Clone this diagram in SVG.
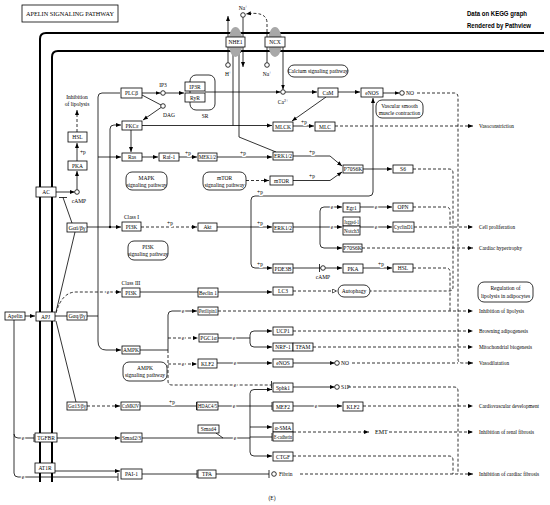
<svg xmlns="http://www.w3.org/2000/svg" width="550" height="505" viewBox="0 0 550 505">
<defs>
<marker id="a" viewBox="0 0 10 10" refX="10" refY="5" markerWidth="5" markerHeight="5" markerUnits="userSpaceOnUse" orient="auto"><path d="M0,1 L10,5 L0,9 z"/></marker>
<marker id="o" viewBox="0 0 10 10" refX="10" refY="5" markerWidth="5" markerHeight="5" markerUnits="userSpaceOnUse" orient="auto"><path d="M1,1 L9,5 L1,9 z" fill="#fff" stroke="#000" stroke-width="1.2"/></marker>
<style>
.b{fill:#fff;stroke:#000;stroke-width:0.8}
.t{font-family:"Liberation Serif",serif;font-size:5.5px;text-anchor:middle;fill:#000}
.s{font-family:"Liberation Serif",serif;font-size:5.5px;text-anchor:start;fill:#000}
.r{font-family:"Liberation Serif",serif;font-size:6px;text-anchor:start;fill:#000}
.e{font-family:"Liberation Serif",serif;font-size:5.5px;text-anchor:middle;fill:#000;stroke:#fff;stroke-width:2.2;paint-order:stroke}
.l{fill:none;stroke:#000;stroke-width:0.8}
.d{fill:none;stroke:#000;stroke-width:0.8;stroke-dasharray:3 2}
.m{fill:none;stroke:#000;stroke-width:2}
.c{fill:#fff;stroke:#000;stroke-width:0.8}
.g{fill:#a8a8a8;stroke:none}
.h{font-family:"Liberation Sans",sans-serif;font-size:7.5px;font-weight:bold;fill:#000}
</style>
</defs>
<rect width="550" height="505" fill="#fff"/>

<g id="title"><rect class="b" x="22" y="5" width="96" height="17"/><text class="t" x="70" y="16" font-size="6.5px" textLength="88" lengthAdjust="spacingAndGlyphs">APELIN SIGNALING PATHWAY</text></g>
<g id="credit"><text class="h" x="467" y="16" textLength="60" lengthAdjust="spacingAndGlyphs">Data on KEGG graph</text><text class="h" x="467" y="27.5" textLength="64" lengthAdjust="spacingAndGlyphs">Rendered by Pathview</text></g>

<g id="membrane">
<path class="m" d="M544 33 H46 Q40 33 40 39 V482"/>
<path class="m" d="M544 51 H58 Q52 51 52 57 V482"/>
</g>

<g id="connectors">
<path class="l" d="M228 62.7 V47"/><path class="l" d="M228 37 V16" marker-end="url(#a)"/>
<path class="l" d="M243 17.3 V37"/><path class="l" d="M243 47 V67" marker-end="url(#a)"/>
<path class="l" d="M267 62.7 V47"/>
<path class="d" d="M267 37 V22 Q266 11 246 14" marker-end="url(#a)"/>
<path class="l" d="M283 47 V89.5" marker-end="url(#a)"/>
<path class="l" d="M142 93 H160.5" marker-end="url(#a)"/>
<path class="l" d="M142 95 L161 105"/>
<path class="l" d="M165.3 93 H184" marker-end="url(#a)"/>
<path class="l" d="M161 107.5 L143 120" marker-end="url(#a)"/>
<path class="l" d="M120 93 H102 Q98 93 98 97 V341 Q98 350 106 350 H121" marker-end="url(#a)"/>
<path class="l" d="M98 157 H121" marker-end="url(#a)"/>
<path class="l" d="M87 316 H98"/>
<path class="l" d="M110 227 V129 Q110 125 114 125 H121" marker-end="url(#a)"/>
<circle cx="110" cy="227" r="1.2"/>
<path class="l" d="M87 227 H121" marker-end="url(#a)"/>
<path class="l" d="M131 130 V152" marker-end="url(#a)"/>
<path class="l" d="M142 157 H158" marker-end="url(#a)"/>
<path class="l" d="M179 157 H197" marker-end="url(#a)"/>
<path class="l" d="M217 157 H272" marker-end="url(#a)"/>
<path class="l" d="M142 125.5 H272" marker-end="url(#a)"/>
<path class="l" d="M233 125.5 V48" marker-end="url(#a)"/>
<path class="l" d="M276 152 L239 137 V48" marker-end="url(#a)"/>
<path class="l" d="M205 92 H280.5" marker-end="url(#a)"/>
<path class="l" d="M285.3 92 H317" marker-end="url(#a)"/>
<path class="l" d="M338 92 H360" marker-end="url(#a)"/>
<path class="l" d="M326 97 L292 121" marker-end="url(#a)"/>
<path class="l" d="M293 126 H314" marker-end="url(#a)"/>
<path class="d" d="M335 126 H473" marker-end="url(#a)"/>
<path class="l" d="M383 93 H399.5" marker-end="url(#a)"/>
<path class="d" d="M417 93 H454 Q458 93 458 97 V359 Q458 363 462 363 H473" marker-end="url(#a)"/>
<path class="l" d="M293 156 H330 L342 166" marker-end="url(#a)"/>
<path class="l" d="M293 180.5 H330 L342 172" marker-end="url(#a)"/>
<path class="l" d="M363 169 H392" marker-end="url(#a)"/>
<path class="d" d="M246 180.5 H269" marker-end="url(#a)"/>
<path class="d" d="M141 227 H197" marker-end="url(#a)"/>
<path class="l" d="M217 227 H272" marker-end="url(#a)"/>
<path class="l" d="M251 227 V200 Q251 196 255 196 H369 Q373 196 373 192 V98" marker-end="url(#a)"/>
<path class="l" d="M251 227 V264 Q251 268 255 268 H272" marker-end="url(#a)"/>
<path class="l" d="M293 227 H342" marker-end="url(#a)"/>
<path class="l" d="M320 227 V211 Q320 207 324 207 H342" marker-end="url(#a)"/>
<path class="l" d="M320 227 V244 Q320 248 324 248 H342" marker-end="url(#a)"/>
<path class="l" d="M360 207 H392" marker-end="url(#a)"/>
<path class="l" d="M360 227 H392" marker-end="url(#a)"/>
<path class="d" d="M362 248 H473" marker-end="url(#a)"/>
<path class="d" d="M413 169 H449 Q453 169 453 173 V287 Q453 291 449 291 H370"/>
<path class="d" d="M413 207 H446 Q450 207 450 211 V227"/>
<path class="d" d="M414 227 H473" marker-end="url(#a)"/>
<path class="l" d="M293 268 H320.7"/><path class="l" d="M319.5 264 V272"/>
<path class="l" d="M325.3 268 H342" marker-end="url(#a)"/>
<path class="l" d="M363 268 H392" marker-end="url(#a)"/>
<path class="d" d="M413 268 H446 Q450 268 450 272 V311"/>
<path class="l" d="M72 223 L63 197.5"/><path class="l" d="M59 197.5 H67"/>
<path class="l" d="M56 192 H74.7" marker-end="url(#a)"/>
<path class="l" d="M77 189.7 V171" marker-end="url(#a)"/>
<path class="l" d="M77 161 V143" marker-end="url(#a)"/>
<path class="d" d="M77 132 V110" marker-end="url(#a)"/>
<path class="l" d="M25 316 H35" marker-end="url(#a)"/>
<path class="l" d="M55 316 H67"/>
<path class="l" d="M56 312 L75 232"/>
<path class="l" d="M56 321 L76 402"/>
<path class="d" d="M56 313 Q62 292 76 292 H121" marker-end="url(#a)"/>
<path class="l" d="M140 292 H198"/>
<path class="l" d="M218 292 H272" marker-end="url(#a)"/>
<path class="d" d="M293 291 H337" marker-end="url(#o)"/>
<path class="l" d="M140 350 H168 V315 Q168 311 172 311 H197" marker-end="url(#a)"/>
<path class="d" d="M168 350 V381 Q168 385 172 385 H271"/><path class="l" d="M271.5 381 V388.5"/>
<path class="d" d="M168 338 H198" marker-end="url(#a)"/>
<path class="d" d="M168 364 H197" marker-end="url(#a)"/>
<path class="d" d="M218 311 H473" marker-end="url(#a)"/>
<path class="l" d="M218 338 H250"/>
<path class="l" d="M250 338 V335 Q250 331 254 331 H272" marker-end="url(#a)"/>
<path class="l" d="M250 338 V343 Q250 347 254 347 H272" marker-end="url(#a)"/>
<path class="d" d="M293 331 H473" marker-end="url(#a)"/>
<path class="d" d="M313 347 H473" marker-end="url(#a)"/>
<path class="l" d="M217 363 H272" marker-end="url(#a)"/>
<path class="l" d="M293 363 H334.7" marker-end="url(#a)"/>
<path class="d" d="M352 363 H458"/>
<path class="l" d="M293 387 H334.7" marker-end="url(#a)"/>
<path class="d" d="M348 387 H454 Q458 387 458 391 V474"/>
<path class="d" d="M87 406 H120" marker-end="url(#a)"/>
<path class="l" d="M140 406 H196.5"/><path class="l" d="M196.5 402 V410"/>
<path class="l" d="M218 406 H250"/>
<path class="l" d="M272 389.5 H254 Q250 389.5 250 393.5 V452 Q250 456 254 456 H272" marker-end="url(#a)"/>
<path class="l" d="M268 389.5 H272" marker-end="url(#a)"/>
<path class="l" d="M250 406 H272"/><path class="l" d="M272 402 V410"/>
<path class="l" d="M250 427 H272" marker-end="url(#a)"/>
<path class="l" d="M250 437 H272"/><path class="l" d="M272 433 V441"/>
<path class="l" d="M142 438 H250"/>
<path class="l" d="M216 433 L223 438"/>
<path class="l" d="M293 406 H342" marker-end="url(#a)"/>
<path class="d" d="M363 406 H473" marker-end="url(#a)"/>
<path class="d" d="M293 432 H369" marker-end="url(#a)"/>
<path class="d" d="M389 432 H473" marker-end="url(#a)"/>
<path class="d" d="M293 456 H449 Q453 456 453 460 V474"/>
<path class="l" d="M57 438 H120" marker-end="url(#a)"/>
<path class="l" d="M14 320 V434 Q14 438 18 438 H34"/><path class="l" d="M34 434 V442"/>
<path class="l" d="M14 434 V473 Q14 477 18 477 H118"/><path class="l" d="M118 473 V481"/>
<path class="l" d="M55 471 H120" marker-end="url(#a)"/>
<path class="l" d="M142 474 H197"/><path class="l" d="M197 470 V478"/>
<path class="l" d="M216 474 H269"/><path class="l" d="M269 470 V478"/>
<path class="d" d="M300 474 H473" marker-end="url(#a)"/>
<text class="e" x="188" y="155">+p</text>
<text class="e" x="243" y="155">+p</text>
<text class="e" x="304" y="124">+p</text>
<text class="e" x="312" y="154">+p</text>
<text class="e" x="312" y="178">+p</text>
<text class="e" x="170" y="225">+p</text>
<text class="e" x="260" y="225">+p</text>
<text class="e" x="260" y="194">+p</text>
<text class="e" x="260" y="266">+p</text>
<text class="e" x="381" y="266">+p</text>
<text class="s" x="80" y="154">+p</text>
<text class="e" x="172" y="404">+p</text>
<text class="e" x="108" y="294">e</text>
<text class="e" x="332" y="209">e</text>
<text class="e" x="332" y="229">e</text>
<text class="e" x="376" y="209">e</text>
<text class="e" x="376" y="229">e</text>
<text class="e" x="183" y="313">e</text>
<text class="e" x="183" y="340">e</text>
<text class="e" x="183" y="366">e</text>
<text class="e" x="235" y="387">e</text>
<text class="e" x="234" y="340">e</text>
<text class="e" x="235" y="365">e</text>
<text class="e" x="234" y="408">e</text>
<text class="e" x="235" y="440">e</text>
<text class="e" x="316" y="408">e</text>
<text class="e" x="23" y="440">e</text>
<text class="e" x="23" y="479">e</text>
</g>

<g id="ip3"><circle class="c" cx="163" cy="93" r="2.3"/><text class="t" x="163" y="87">IP3</text></g>
<g id="dag"><circle class="c" cx="163" cy="106" r="2.3"/><text class="t" x="169" y="117">DAG</text></g>
<g id="ca"><circle class="c" cx="283" cy="92" r="2.3"/><text class="t" x="283" y="104">Ca<tspan font-size="4px" dy="-2">2+</tspan></text></g>
<g id="no1"><circle class="c" cx="402" cy="93" r="2.3"/><text class="s" x="406" y="95">NO</text></g>
<g id="camp1"><circle class="c" cx="77" cy="192" r="2.3"/><text class="t" x="79" y="203">cAMP</text></g>
<g id="camp2"><circle class="c" cx="323" cy="268" r="2.3"/><text class="t" x="323" y="279">cAMP</text></g>
<g id="na1"><circle class="c" cx="243" cy="15" r="2.3"/><text class="t" x="243" y="10">Na<tspan font-size="4px" dy="-2">+</tspan></text></g>
<g id="h"><circle class="c" cx="228" cy="65" r="2.3"/><text class="t" x="228" y="76">H<tspan font-size="4px" dy="-2">+</tspan></text></g>
<g id="na2"><circle class="c" cx="267" cy="65" r="2.3"/><text class="t" x="267" y="76">Na<tspan font-size="4px" dy="-2">+</tspan></text></g>
<g id="no2"><circle class="c" cx="337" cy="363" r="2.3"/><text class="s" x="341" y="365">NO</text></g>
<g id="s1p"><circle class="c" cx="337" cy="387" r="2.3"/><text class="s" x="341" y="389">S1P</text></g>
<g id="fibrin"><circle class="c" cx="274" cy="474" r="2.3"/><text class="s" x="279" y="476">Fibrin</text></g>

<g id="nhe1"><ellipse class="g" cx="235.5" cy="42" rx="7" ry="15"/><rect class="b" x="226" y="37" width="19" height="10"/><text class="t" x="235.5" y="44">NHE1</text></g>
<g id="ncx"><ellipse class="g" cx="275" cy="42" rx="7" ry="15"/><rect class="b" x="265" y="37" width="20" height="10"/><text class="t" x="275" y="44">NCX</text></g>

<g id="sr"><rect x="190" y="75" width="25" height="35" rx="6" fill="none" stroke="#000" stroke-width="0.8"/><text class="t" x="205" y="118">SR</text></g>
<g id="ip3r"><rect class="b" x="185" y="82" width="20" height="9"/><text class="t" x="195" y="88.5">IP3R</text></g>
<g id="ryr"><rect class="b" x="185" y="93" width="20" height="9"/><text class="t" x="195" y="99.5">RyR</text></g>

<g id="plcb"><rect class="b" x="121" y="88" width="21" height="10"/><text class="t" x="131.5" y="95">PLCβ</text></g>
<g id="pkce"><rect class="b" x="122" y="121" width="20" height="9"/><text class="t" x="132" y="127.5">PKCε</text></g>
<g id="ras"><rect class="b" x="122" y="153" width="20" height="8"/><text class="t" x="132" y="159">Ras</text></g>
<g id="raf1"><rect class="b" x="159" y="153" width="20" height="8"/><text class="t" x="169" y="159">Raf-1</text></g>
<g id="mek"><rect class="b" x="198" y="153" width="19" height="8"/><text class="t" x="207.5" y="159" textLength="17" lengthAdjust="spacingAndGlyphs">MEK1/2</text></g>
<g id="erk1"><rect class="b" x="273" y="152" width="20" height="8"/><text class="t" x="283" y="158">ERK1/2</text></g>
<g id="cam"><rect class="b" x="318" y="88" width="20" height="9"/><text class="t" x="328" y="94.5">CaM</text></g>
<g id="enos1"><rect class="b" x="361" y="88" width="22" height="9"/><text class="t" x="372" y="94.5">eNOS</text></g>
<g id="mlck"><rect class="b" x="273" y="122" width="20" height="9"/><text class="t" x="283" y="128.5">MLCK</text></g>
<g id="mlc"><rect class="b" x="315" y="122" width="20" height="9"/><text class="t" x="325" y="128.5">MLC</text></g>
<g id="p70a"><rect class="b" x="343" y="165" width="20" height="8"/><text class="t" x="353" y="171">P70S6K</text></g>
<g id="s6"><rect class="b" x="393" y="165" width="20" height="8"/><text class="t" x="403" y="171">S6</text></g>
<g id="mtor"><rect class="b" x="270" y="176" width="23" height="9"/><text class="t" x="281.5" y="182.5">mTOR</text></g>
<g id="hsl1"><rect class="b" x="68" y="132" width="19" height="10"/><text class="t" x="77.5" y="139">HSL</text></g>
<g id="pka1"><rect class="b" x="68" y="161" width="19" height="9"/><text class="t" x="77.5" y="167.5">PKA</text></g>
<g id="ac"><rect class="b" x="36" y="187" width="20" height="10"/><text class="t" x="46" y="194">AC</text></g>
<g id="gai"><rect class="b" x="67" y="223" width="20" height="9"/><text class="t" x="77" y="229.5" textLength="17" lengthAdjust="spacingAndGlyphs">Gαi/βγ</text></g>
<g id="pi3k1"><text class="t" x="131.5" y="219">Class I</text><rect class="b" x="122" y="222" width="19" height="9"/><text class="t" x="131.5" y="228.5">PI3K</text></g>
<g id="akt"><rect class="b" x="198" y="223" width="19" height="8"/><text class="t" x="207.5" y="229">Akt</text></g>
<g id="erk2"><rect class="b" x="273" y="223" width="20" height="9"/><text class="t" x="283" y="229.5">ERK1/2</text></g>
<g id="egr1"><rect class="b" x="343" y="203" width="17" height="9"/><text class="t" x="351.5" y="209.5">Egr1</text></g>
<g id="jag"><rect class="b" x="343" y="217" width="17" height="9"/><text class="t" x="351.5" y="223.5" textLength="15" lengthAdjust="spacingAndGlyphs">Jagged-1</text><rect class="b" x="343" y="226" width="17" height="9"/><text class="t" x="351.5" y="232.5" textLength="15" lengthAdjust="spacingAndGlyphs">Notch3</text></g>
<g id="p70b"><rect class="b" x="343" y="244" width="19" height="8"/><text class="t" x="352.5" y="250">P70S6K</text></g>
<g id="opn"><rect class="b" x="393" y="203" width="20" height="8"/><text class="t" x="403" y="209">OPN</text></g>
<g id="ccnd1"><rect class="b" x="393" y="222" width="21" height="10"/><text class="t" x="403.5" y="229" textLength="19" lengthAdjust="spacingAndGlyphs">CyclinD1</text></g>
<g id="pde3b"><rect class="b" x="273" y="264" width="20" height="9"/><text class="t" x="283" y="270.5">PDE3B</text></g>
<g id="pka2"><rect class="b" x="343" y="264" width="20" height="9"/><text class="t" x="353" y="270.5">PKA</text></g>
<g id="hsl2"><rect class="b" x="393" y="264" width="20" height="8"/><text class="t" x="403" y="270">HSL</text></g>
<g id="pi3k3"><text class="t" x="131" y="285">Class III</text><rect class="b" x="122" y="288" width="18" height="9"/><text class="t" x="131" y="294.5">PI3K</text></g>
<g id="beclin"><rect class="b" x="198" y="288" width="20" height="9"/><text class="t" x="208" y="294.5" textLength="18" lengthAdjust="spacingAndGlyphs">Beclin 1</text></g>
<g id="lc3"><rect class="b" x="273" y="287" width="20" height="8"/><text class="t" x="283" y="293">LC3</text></g>
<g id="apelin"><rect class="b" x="5" y="312" width="20" height="8"/><text class="t" x="15" y="318">Apelin</text></g>
<g id="apj"><rect class="b" x="36" y="312" width="19" height="9"/><text class="t" x="45.5" y="318.5">APJ</text></g>
<g id="gaq"><rect class="b" x="67" y="312" width="20" height="8"/><text class="t" x="77" y="318" textLength="17" lengthAdjust="spacingAndGlyphs">Gαq/βγ</text></g>
<g id="plin1"><rect class="b" x="198" y="307" width="20" height="8"/><text class="t" x="208" y="313" textLength="18" lengthAdjust="spacingAndGlyphs">Perilipin1</text></g>
<g id="ampk"><rect class="b" x="122" y="346" width="18" height="8"/><text class="t" x="131" y="352">AMPK</text></g>
<g id="pgc1a"><rect class="b" x="199" y="334" width="19" height="8"/><text class="t" x="208.5" y="340">PGC1α</text></g>
<g id="ucp1"><rect class="b" x="273" y="327" width="20" height="8"/><text class="t" x="283" y="333">UCP1</text></g>
<g id="nrf1"><rect class="b" x="273" y="343" width="20" height="8"/><text class="t" x="283" y="349">NRF-1</text><rect class="b" x="293" y="343" width="20" height="8"/><text class="t" x="303" y="349">TFAM</text></g>
<g id="klf2a"><rect class="b" x="198" y="359" width="19" height="9"/><text class="t" x="207.5" y="365.5">KLF2</text></g>
<g id="enos2"><rect class="b" x="273" y="359" width="20" height="8"/><text class="t" x="283" y="365">eNOS</text></g>
<g id="sphk1"><rect class="b" x="273" y="383" width="20" height="9"/><text class="t" x="283" y="389.5">Sphk1</text></g>
<g id="ga13"><rect class="b" x="67" y="402" width="20" height="8"/><text class="t" x="77" y="408" textLength="18" lengthAdjust="spacingAndGlyphs">Gα13/βγ</text></g>
<g id="camk4"><rect class="b" x="121" y="402" width="19" height="8"/><text class="t" x="130.5" y="408" textLength="17" lengthAdjust="spacingAndGlyphs">CaMKIV</text></g>
<g id="hdac"><rect class="b" x="197" y="402" width="21" height="8"/><text class="t" x="207.5" y="408" textLength="19" lengthAdjust="spacingAndGlyphs">HDAC4/5</text></g>
<g id="mef2"><rect class="b" x="273" y="402" width="20" height="9"/><text class="t" x="283" y="408.5">MEF2</text></g>
<g id="klf2b"><rect class="b" x="343" y="402" width="20" height="9"/><text class="t" x="353" y="408.5">KLF2</text></g>
<g id="smad4"><rect class="b" x="198" y="425" width="21" height="8"/><text class="t" x="208.5" y="431">Smad4</text></g>
<g id="asma"><rect class="b" x="273" y="423" width="20" height="9"/><text class="t" x="283" y="429.5">α-SMA</text><rect class="b" x="273" y="432" width="20" height="9"/><text class="t" x="283" y="438.5" textLength="18" lengthAdjust="spacingAndGlyphs">E-cadherin</text></g>
<g id="ctgf"><rect class="b" x="273" y="452" width="20" height="9"/><text class="t" x="283" y="458.5">CTGF</text></g>
<g id="tgfbr"><rect class="b" x="35" y="433" width="22" height="9"/><text class="t" x="46" y="439.5">TGFBR</text></g>
<g id="smad23"><rect class="b" x="121" y="433" width="21" height="9"/><text class="t" x="131.5" y="439.5" textLength="19" lengthAdjust="spacingAndGlyphs">Smad2/3</text></g>
<g id="at1r"><rect class="b" x="35" y="463" width="20" height="10"/><text class="t" x="45" y="470">AT1R</text></g>
<g id="pai1"><rect class="b" x="121" y="469" width="21" height="10"/><text class="t" x="131.5" y="476">PAI-1</text></g>
<g id="tpa"><rect class="b" x="198" y="470" width="18" height="8"/><text class="t" x="207" y="476">TPA</text></g>

<g id="map_mapk"><rect class="b" x="126" y="172" width="41" height="18" rx="6"/><text class="t" x="146.5" y="179.5">MAPK</text><text class="t" x="146.5" y="186.5">signaling pathway</text></g>
<g id="map_mtor"><rect class="b" x="203" y="172" width="43" height="18" rx="6"/><text class="t" x="224.5" y="179.5">mTOR</text><text class="t" x="224.5" y="186.5">signaling pathway</text></g>
<g id="map_pi3k"><rect class="b" x="128" y="241" width="40" height="19" rx="6"/><text class="t" x="148" y="248.5">PI3K</text><text class="t" x="148" y="256">signaling pathway</text></g>
<g id="map_ca"><rect class="b" x="288" y="65" width="60" height="12" rx="6"/><text class="t" x="318" y="73">Calcium signaling pathway</text></g>
<g id="map_vsm"><rect class="b" x="376" y="100" width="47" height="18" rx="6"/><text class="t" x="399.5" y="107.5">Vascular smooth</text><text class="t" x="399.5" y="114.5">muscle contraction</text></g>
<g id="map_ampk"><rect class="b" x="123" y="362" width="44" height="19" rx="6"/><text class="t" x="145" y="369.5">AMPK</text><text class="t" x="145" y="377">signaling pathway</text></g>
<g id="map_autophagy"><rect class="b" x="338" y="285" width="32" height="12" rx="6"/><text class="t" x="354" y="293">Autophagy</text></g>
<g id="map_lipolysis"><rect class="b" x="478" y="282" width="55" height="20" rx="6"/><text class="t" x="505.5" y="290">Regulation of</text><text class="t" x="505.5" y="298">lipolysis in adipocytes</text></g>

<g id="outcomes">
<text class="t" x="77" y="99">Inhibition</text><text class="t" x="77" y="106">of lipolysis</text>
<text class="r" x="479" y="128" textLength="35" lengthAdjust="spacingAndGlyphs">Vasoconstriction</text>
<text class="r" x="479" y="229" textLength="36" lengthAdjust="spacingAndGlyphs">Cell proliferation</text>
<text class="r" x="479" y="250" textLength="43" lengthAdjust="spacingAndGlyphs">Cardiac hypertrophy</text>
<text class="r" x="479" y="313" textLength="45" lengthAdjust="spacingAndGlyphs">Inhibition of lipolysis</text>
<text class="r" x="479" y="333" textLength="49" lengthAdjust="spacingAndGlyphs">Browning adipogenesis</text>
<text class="r" x="479" y="349" textLength="53" lengthAdjust="spacingAndGlyphs">Mitochondrial biogenesis</text>
<text class="r" x="479" y="365" textLength="30" lengthAdjust="spacingAndGlyphs">Vasodilatation</text>
<text class="r" x="479" y="408" textLength="60" lengthAdjust="spacingAndGlyphs">Cardiovascular development</text>
<text class="r" x="375" y="434">EMT</text>
<text class="r" x="479" y="434" textLength="55" lengthAdjust="spacingAndGlyphs">Inhibition of renal fibrosis</text>
<text class="r" x="479" y="476" textLength="60" lengthAdjust="spacingAndGlyphs">Inhibition of cardiac fibrosis</text>
<text class="t" x="272" y="500" font-size="7px">(E)</text>
</g>
</svg>
